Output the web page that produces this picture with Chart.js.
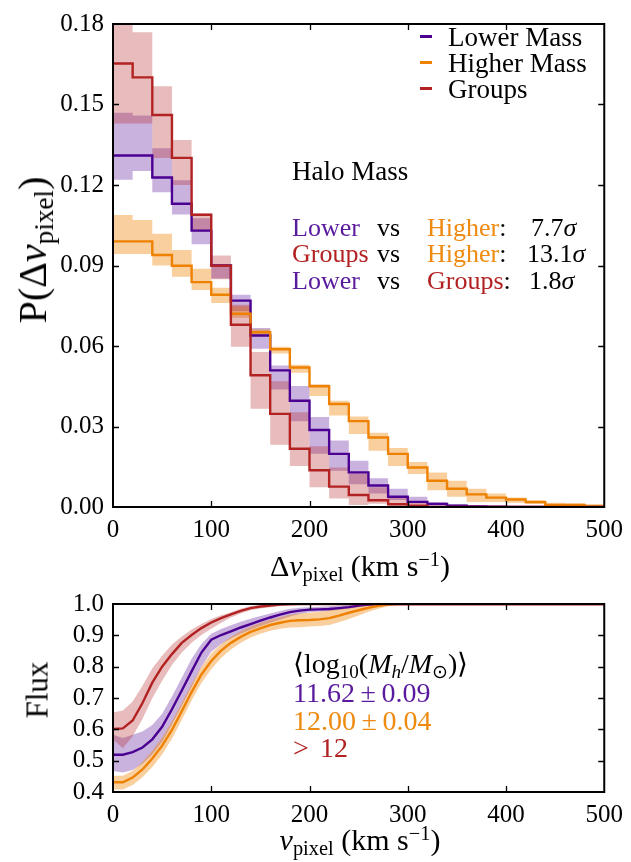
<!DOCTYPE html>
<html>
<head>
<meta charset="utf-8">
<script src="https://cdn.jsdelivr.net/npm/chart.js@4.4.1/dist/chart.umd.min.js"></script>
<style>
  html,body{margin:0;padding:0;background:#fff;}
  #wrap{position:relative;width:631px;height:862px;overflow:hidden;font-family:"Liberation Serif",serif;color:#000;}
  canvas{position:absolute;left:0;}
  .t{position:absolute;white-space:nowrap;line-height:1;transform:translateY(-50%);font-size:26px;}
  .t sub,.rot sub{font-size:0.68em;vertical-align:-0.25em;line-height:0;}
  .t sup{font-size:0.68em;vertical-align:0.5em;line-height:0;}
  .leg{position:absolute;height:2.5px;width:12px;}
  .rot{position:absolute;white-space:nowrap;line-height:1;transform:translate(-50%,-50%) rotate(-90deg);}
  .c{transform:translate(-50%,-50%);}
  .pm{margin:0 0.2em;}
</style>
</head>
<body>
<div id="wrap">
  <canvas id="top" width="631" height="580" style="top:0"></canvas>
  <canvas id="bot" width="631" height="282" style="top:580px"></canvas>

  <!-- top panel texts -->
  <div class="rot" style="left:33px;top:250px;font-size:40px;">P(Δ<i>v</i><sub>pixel</sub>)</div>
  <div class="t c" style="left:360px;top:566px;font-size:30px;">Δ<i>v</i><sub>pixel</sub> (km s<sup>−1</sup>)</div>

  <div class="leg" style="left:420px;top:35px;background:#4B0092"></div>
  <div class="t" style="left:448px;top:37px;font-size:27px;">Lower Mass</div>
  <div class="leg" style="left:420px;top:61px;background:#EE8100"></div>
  <div class="t" style="left:448px;top:63px;font-size:27px;">Higher Mass</div>
  <div class="leg" style="left:420px;top:87px;background:#B22222"></div>
  <div class="t" style="left:448px;top:89px;font-size:27px;">Groups</div>

  <div class="t" style="left:292px;top:171px;font-size:27px;">Halo Mass</div>

  <div class="t" style="left:292px;top:228px;color:#5A1A9E">Lower</div>
  <div class="t" style="left:377px;top:228px;">vs</div>
  <div class="t" style="left:427px;top:228px;color:#EE8A10">Higher<span style="color:#000">:</span></div>
  <div class="t" style="left:531px;top:228px;">7.7<i>σ</i></div>

  <div class="t" style="left:292px;top:254px;color:#B22222">Groups</div>
  <div class="t" style="left:377px;top:254px;">vs</div>
  <div class="t" style="left:427px;top:254px;color:#EE8A10">Higher<span style="color:#000">:</span></div>
  <div class="t" style="left:527px;top:254px;">13.1<i>σ</i></div>

  <div class="t" style="left:292px;top:281px;color:#5A1A9E">Lower</div>
  <div class="t" style="left:377px;top:281px;">vs</div>
  <div class="t" style="left:427px;top:281px;color:#B22222">Groups<span style="color:#000">:</span></div>
  <div class="t" style="left:529px;top:281px;">1.8<i>σ</i></div>

  <!-- bottom panel texts -->
  <div class="rot" style="left:37px;top:690px;font-size:31px;">Flux</div>
  <div class="t c" style="left:360px;top:840px;font-size:30px;"><i>v</i><sub>pixel</sub> (km s<sup>−1</sup>)</div>

  <div class="t" style="left:293px;top:664px;font-size:28px;">⟨log<sub>10</sub>(<i>M</i><sub><i>h</i></sub>/<i>M</i><sub>⊙</sub>)⟩</div>
  <div class="t" style="left:293px;top:693px;font-size:28px;color:#5A1A9E">11.62<span class="pm">±</span>0.09</div>
  <div class="t" style="left:293px;top:721px;font-size:28px;color:#EE8A10">12.00<span class="pm">±</span>0.04</div>
  <div class="t" style="left:293px;top:748px;font-size:28px;color:#B22222">&gt;<span class="pm"></span>12</div>
</div>

<script>
// ---------------- DATA ----------------
// Top panel: histogram bins (left edges, km/s), width 20
const binEdges = [0,20,40,60,80,100,120,140,160,180,200,220,240,260,280,300,320,340,360,380,400,420,440,460,480];
const binEnd = 500;

const lowerHist      = [0.131,0.131,0.1228,0.113,0.103,0.090,0.0769,0.0639,0.0509,0.0396,0.0287,0.0198,0.0129,0.008,0.0038,0.0019,0.0011,0.0005,0.0002,0.0001,0,0,0,0,0];
const lowerHistHi    = [0.1469,0.1459,0.1337,0.1218,0.1076,0.0905,0.0791,0.0667,0.0527,0.0451,0.0335,0.0248,0.0172,0.0107,0.0068,0.0038,0.0019,0.001,0.0007,0.0005,0.0003,0.0002,0.0001,0,0];
const lowerHistLo    = [0.122,0.1252,0.1173,0.109,0.0979,0.0852,0.073,0.059,0.0438,0.032,0.0198,0.0135,0.0085,0.005,0.0026,0.0013,0.0007,0.0002,0,0,0,0,0,0,0];

const higherHist     = [0.099,0.099,0.0939,0.0899,0.0838,0.0791,0.072,0.0651,0.0588,0.052,0.045,0.0384,0.032,0.0259,0.0198,0.0147,0.0098,0.0068,0.0047,0.0035,0.0028,0.0018,0.0008,0.0008,0.0002];
const higherHistHi   = [0.1088,0.107,0.1018,0.0958,0.0888,0.0817,0.0748,0.0662,0.0597,0.053,0.0457,0.0396,0.0337,0.0277,0.022,0.0168,0.0129,0.0098,0.0068,0.005,0.0035,0.0026,0.0016,0.0014,0.0011];
const higherHistLo   = [0.0943,0.0943,0.09,0.0858,0.0809,0.076,0.0705,0.0636,0.0572,0.05,0.0414,0.0341,0.0272,0.021,0.0153,0.0123,0.0062,0.0038,0.0019,0.0019,0.0016,0.0011,0.0004,0.0003,0];

const groupsHist     = [0.1653,0.1601,0.1461,0.1301,0.1089,0.0899,0.0679,0.0491,0.0347,0.0217,0.0137,0.0076,0.0045,0.0025,0.001,0.0005,0,0,0,0,0,0,0,0,0];
const groupsHistHi   = [0.19,0.1769,0.1568,0.1368,0.1094,0.0937,0.0754,0.0578,0.0469,0.0353,0.0226,0.0147,0.0125,0.0074,0.0038,0.0016,0.0005,0,0,0,0,0,0,0,0];
const groupsHistLo   = [0.1429,0.1429,0.1301,0.12,0.1028,0.0849,0.0597,0.0366,0.0232,0.0153,0.0074,0.0032,0.0007,0.0012,0.0004,0.0002,0,0,0,0,0,0,0,0,0];

const topXTicks = [0,100,200,300,400,500];
const topYTicks = [0,0.03,0.06,0.09,0.12,0.15,0.18];

// Bottom panel: mean flux vs v_pixel (km/s)
const vPix = [0,10,20,30,40,50,60,70,80,90,100,110,120,130,140,150,160,170,180,190,200,210,220,230,240,250,260,270,280,290,300,350,400,450,500];

const lowerFlux   = [0.519,0.519,0.527,0.542,0.568,0.608,0.664,0.724,0.785,0.845,0.886,0.901,0.913,0.925,0.936,0.947,0.957,0.966,0.974,0.979,0.982,0.983,0.984,0.987,0.990,0.995,0.998,1,1,1,1,1,1,1,1];
const lowerFluxHi = [0.583,0.572,0.583,0.593,0.614,0.650,0.705,0.765,0.825,0.872,0.905,0.920,0.932,0.943,0.953,0.962,0.970,0.978,0.985,0.988,0.990,0.991,0.993,0.995,0.997,0.999,1,1,1,1,1,1,1,1,1];
const lowerFluxLo = [0.467,0.462,0.470,0.490,0.520,0.560,0.615,0.675,0.735,0.800,0.848,0.872,0.890,0.905,0.918,0.930,0.940,0.950,0.960,0.968,0.974,0.976,0.978,0.981,0.985,0.990,0.995,0.998,1,1,1,1,1,1,1];

const higherFlux   = [0.431,0.431,0.446,0.472,0.507,0.548,0.598,0.658,0.719,0.775,0.818,0.851,0.876,0.895,0.911,0.922,0.933,0.940,0.946,0.948,0.949,0.951,0.955,0.963,0.972,0.980,0.988,0.994,0.998,1,1,1,1,1,1];
const higherFluxHi = [0.452,0.452,0.468,0.496,0.532,0.574,0.625,0.685,0.745,0.800,0.842,0.872,0.895,0.913,0.928,0.940,0.950,0.958,0.966,0.970,0.972,0.975,0.979,0.985,0.990,0.995,0.998,1,1,1,1,1,1,1,1];
const higherFluxLo = [0.408,0.408,0.422,0.447,0.480,0.520,0.570,0.630,0.692,0.748,0.792,0.828,0.855,0.876,0.893,0.905,0.915,0.921,0.925,0.926,0.928,0.930,0.933,0.942,0.952,0.963,0.975,0.985,0.993,0.998,1,1,1,1,1];

const groupsFlux   = [0.601,0.603,0.628,0.684,0.749,0.800,0.840,0.876,0.901,0.923,0.941,0.955,0.967,0.978,0.987,0.992,0.995,0.998,0.999,1,1,1,1,1,1,1,1,1,1,1,1,1,1,1,1];
const groupsFluxHi = [0.654,0.660,0.689,0.739,0.795,0.835,0.871,0.896,0.919,0.936,0.952,0.964,0.974,0.985,0.994,0.997,0.999,1,1,1,1,1,1,1,1,1,1,1,1,1,1,1,1,1,1];
const groupsFluxLo = [0.568,0.540,0.578,0.633,0.699,0.755,0.805,0.845,0.876,0.901,0.921,0.940,0.957,0.970,0.980,0.986,0.990,0.994,0.997,0.999,1,1,1,1,1,1,1,1,1,1,1,1,1,1,1];

const botXTicks = [0,100,200,300,400,500];
const botYTicks = [0.4,0.5,0.6,0.7,0.8,0.9,1.0];

// ---------------- STYLE ----------------
const C = {
  lower:  {line:'#4B0092', band:'rgba(75,0,146,0.30)'},
  higher: {line:'#EE8100', band:'rgba(238,129,0,0.38)'},
  groups: {line:'#B22222', band:'rgba(178,34,34,0.30)'}
};
const SERIF = "Liberation Serif";
const FONT = {family:SERIF, size:25, style:'normal', weight:'normal'};

function stepPts(vals){
  const p = binEdges.map((x,i)=>({x:x, y:vals[i]}));
  p.push({x:binEnd, y:vals[vals.length-1]});
  return p;
}
function linePts(vals){ return vPix.map((x,i)=>({x:x, y:vals[i]})); }

function bandSets(hi, lo, col, mk, extra, ord){
  return [
    Object.assign({data:mk(hi), fill:'+1', backgroundColor:col, borderColor:'rgba(0,0,0,0)', borderWidth:0, pointRadius:0, order:ord}, extra),
    Object.assign({data:mk(lo), fill:false, borderColor:'rgba(0,0,0,0)', borderWidth:0, pointRadius:0, order:ord}, extra)
  ];
}
function lineSet(vals, col, mk, extra){
  return Object.assign({data:mk(vals), fill:false, borderColor:col, borderWidth:2.4, pointRadius:0, order:1}, extra);
}

const framePlugin = {
  id:'frame',
  afterDatasetsDraw(chart){
    const ctx = chart.ctx, a = chart.chartArea, x = chart.scales.x, y = chart.scales.y;
    ctx.save();
    ctx.strokeStyle = '#000';
    ctx.lineWidth = 1.3;
    const L = 6;
    ctx.beginPath();
    x.ticks.forEach(t=>{
      const px = Math.round(x.getPixelForValue(t.value))+0.5;
      if (px <= a.left+1 || px >= a.right-1) return;
      ctx.moveTo(px, a.bottom); ctx.lineTo(px, a.bottom-L);
      ctx.moveTo(px, a.top); ctx.lineTo(px, a.top+L);
    });
    y.ticks.forEach(t=>{
      const py = Math.round(y.getPixelForValue(t.value))+0.5;
      if (py <= a.top+1 || py >= a.bottom-1) return;
      ctx.moveTo(a.left, py); ctx.lineTo(a.left+L, py);
      ctx.moveTo(a.right, py); ctx.lineTo(a.right-L, py);
    });
    ctx.stroke();
    ctx.lineWidth = 2;
    ctx.strokeRect(a.left, a.top, a.width, a.height);
    ctx.restore();
  }
};

function makeScales(xt, yt, xmin, xmax, ymin, ymax, ydec, leftW, bottomH, xpad){
  return {
    x: {type:'linear', min:xmin, max:xmax,
        grid:{display:false, drawTicks:false}, border:{display:false},
        afterBuildTicks: s => { s.ticks = xt.map(v=>({value:v})); },
        afterFit: s => { s.height = bottomH; },
        ticks:{font:FONT, color:'#000', padding:xpad, maxRotation:0, autoSkip:false, callback:v=>String(v)}},
    y: {type:'linear', min:ymin, max:ymax,
        grid:{display:false, drawTicks:false}, border:{display:false},
        afterBuildTicks: s => { s.ticks = yt.map(v=>({value:v})); },
        afterFit: s => { s.width = leftW; },
        ticks:{font:FONT, color:'#000', padding:9, autoSkip:false, callback:v=>Number(v).toFixed(ydec)}}
  };
}

const common = {
  responsive:false, animation:false, devicePixelRatio:1, events:[],
  plugins:{legend:{display:false}, tooltip:{enabled:false}}
};

function build(){
  Chart.defaults.font.family = SERIF;
  const st = {stepped:'before'};
  new Chart(document.getElementById('top'), {
    type:'line',
    data:{datasets:[
      ...bandSets(lowerHistHi, lowerHistLo, C.lower.band, stepPts, st, 10),
      ...bandSets(higherHistHi, higherHistLo, C.higher.band, stepPts, st, 9),
      ...bandSets(groupsHistHi, groupsHistLo, C.groups.band, stepPts, st, 8),
      lineSet(lowerHist, C.lower.line, stepPts, {stepped:'before', order:3}),
      lineSet(higherHist, C.higher.line, stepPts, {stepped:'before', order:2}),
      lineSet(groupsHist, C.groups.line, stepPts, {stepped:'before', order:1})
    ]},
    options: Object.assign({}, common, {
      layout:{padding:{left:0, right:23, top:13, bottom:0}},
      scales: makeScales(topXTicks, topYTicks, 0, 500, 0, 0.18, 2, 113, 73, 8)
    }),
    plugins:[framePlugin]
  });

  const sm = {tension:0};
  new Chart(document.getElementById('bot'), {
    type:'line',
    data:{datasets:[
      ...bandSets(lowerFluxHi, lowerFluxLo, C.lower.band, linePts, sm, 10),
      ...bandSets(higherFluxHi, higherFluxLo, C.higher.band, linePts, sm, 9),
      ...bandSets(groupsFluxHi, groupsFluxLo, C.groups.band, linePts, sm, 8),
      lineSet(lowerFlux, C.lower.line, linePts, {order:3}),
      lineSet(higherFlux, C.higher.line, linePts, {order:2}),
      lineSet(groupsFlux, C.groups.line, linePts, {order:1})
    ]},
    options: Object.assign({}, common, {
      layout:{padding:{left:0, right:23, top:14, bottom:0}},
      scales: makeScales(botXTicks, botYTicks, 0, 500, 0.4, 1.0, 1, 113, 70, 8)
    }),
    plugins:[framePlugin]
  });
}

if (document.fonts && document.fonts.load) {
  document.fonts.load('25px "Liberation Serif"', '0.123456789').then(build, build);
} else {
  build();
}
</script>
</body>
</html>
